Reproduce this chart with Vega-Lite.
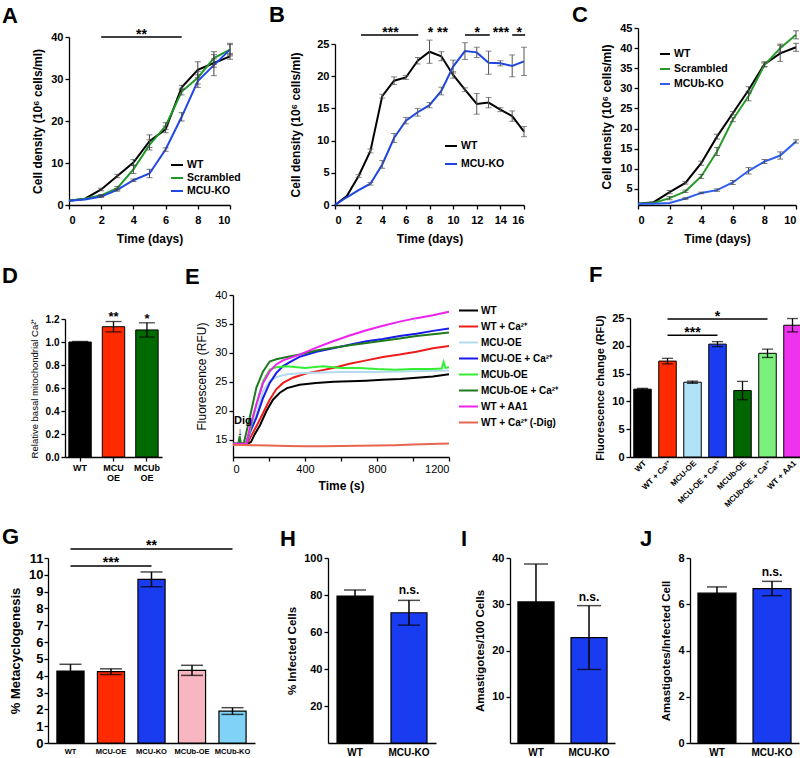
{
"$schema": "https://vega.github.io/schema/vega-lite/v6.json",
"background": "white",
"padding": {"left": 2, "top": 3, "right": 0, "bottom": 0},
"config": {
  "font": "Liberation Sans",
  "view": {"stroke": null},
  "axis": {"grid": false, "domainColor": "#000", "domainWidth": 1.3, "tickColor": "#000", "tickWidth": 1.3, "tickSize": 4, "labelColor": "#000", "titleColor": "#000", "labelFontWeight": "bold", "titleFontWeight": "bold", "labelFontSize": 11, "titleFontSize": 12, "labelPadding": 2, "titlePadding": 6, "labelFont": "Liberation Sans", "titleFont": "Liberation Sans"},
  "title": {"anchor": "start", "frame": "group", "fontSize": 22, "fontWeight": "bold", "color": "#000", "baseline": "alphabetic", "font": "Liberation Sans"},
  "legend": {"labelFont": "Liberation Sans", "labelFontWeight": "bold", "labelColor": "#000", "labelFontSize": 10.5, "symbolType": "stroke", "symbolStrokeWidth": 2, "padding": 0},
  "text": {"font": "Liberation Sans", "color": "#000"},
  "concat": {"spacing": 0}
},
"datasets": {
  "A": [
    {"s":"WT","d":0,"v":1.0,"e":0},{"s":"WT","d":1,"v":1.5,"e":0},{"s":"WT","d":2,"v":3.7,"e":0.3},{"s":"WT","d":3,"v":6.9,"e":0.4},{"s":"WT","d":4,"v":10.1,"e":0.7},{"s":"WT","d":5,"v":15.2,"e":1.5},{"s":"WT","d":6,"v":18.0,"e":0.8},{"s":"WT","d":7,"v":28.0,"e":0.5},{"s":"WT","d":8,"v":32.2,"e":1.9},{"s":"WT","d":9,"v":33.8,"e":1.0},{"s":"WT","d":10,"v":35.4,"e":0.7},
    {"s":"Scrambled","d":0,"v":1.0,"e":0},{"s":"Scrambled","d":1,"v":1.5,"e":0},{"s":"Scrambled","d":2,"v":2.3,"e":0.2},{"s":"Scrambled","d":3,"v":4.0,"e":0.4},{"s":"Scrambled","d":4,"v":8.5,"e":1.0},{"s":"Scrambled","d":5,"v":14.3,"e":1.2},{"s":"Scrambled","d":6,"v":18.8,"e":0.8},{"s":"Scrambled","d":7,"v":27.0,"e":0.8},{"s":"Scrambled","d":8,"v":30.3,"e":1.5},{"s":"Scrambled","d":9,"v":35.0,"e":1.5},{"s":"Scrambled","d":10,"v":37.0,"e":1.5},
    {"s":"MCU-KO","d":0,"v":1.0,"e":0},{"s":"MCU-KO","d":1,"v":1.3,"e":0},{"s":"MCU-KO","d":2,"v":2.0,"e":0.2},{"s":"MCU-KO","d":3,"v":3.6,"e":0.3},{"s":"MCU-KO","d":4,"v":5.9,"e":0.3},{"s":"MCU-KO","d":5,"v":7.5,"e":1.0},{"s":"MCU-KO","d":6,"v":13.2,"e":0.4},{"s":"MCU-KO","d":7,"v":21.0,"e":1.0},{"s":"MCU-KO","d":8,"v":29.5,"e":1.5},{"s":"MCU-KO","d":9,"v":33.3,"e":2.5},{"s":"MCU-KO","d":10,"v":37.0,"e":1.2}
  ],
  "B": [
    {"s":"WT","d":0,"v":0,"e":0},{"s":"WT","d":1,"v":1.4,"e":0},{"s":"WT","d":2,"v":4.5,"e":0.2},{"s":"WT","d":3,"v":8.4,"e":0.3},{"s":"WT","d":4,"v":16.9,"e":0.3},{"s":"WT","d":5,"v":19.3,"e":0.6},{"s":"WT","d":6,"v":19.8,"e":0.3},{"s":"WT","d":7,"v":22.4,"e":0.5},{"s":"WT","d":8,"v":23.8,"e":1.8},{"s":"WT","d":9,"v":23.1,"e":0.7},{"s":"WT","d":10,"v":20.2,"e":0.5},{"s":"WT","d":11,"v":17.9,"e":0.3},{"s":"WT","d":12,"v":15.7,"e":1.6},{"s":"WT","d":13,"v":15.9,"e":0.8},{"s":"WT","d":14,"v":14.8,"e":0.3},{"s":"WT","d":15,"v":13.8,"e":0.8},{"s":"WT","d":16,"v":11.4,"e":0.8},
    {"s":"MCU-KO","d":0,"v":0,"e":0},{"s":"MCU-KO","d":1,"v":1.2,"e":0},{"s":"MCU-KO","d":2,"v":2.3,"e":0},{"s":"MCU-KO","d":3,"v":3.3,"e":0.2},{"s":"MCU-KO","d":4,"v":6.3,"e":0.6},{"s":"MCU-KO","d":5,"v":10.4,"e":0.7},{"s":"MCU-KO","d":6,"v":13.1,"e":0.5},{"s":"MCU-KO","d":7,"v":14.4,"e":0.6},{"s":"MCU-KO","d":8,"v":15.5,"e":0.4},{"s":"MCU-KO","d":9,"v":17.7,"e":0.6},{"s":"MCU-KO","d":10,"v":21.5,"e":1.0},{"s":"MCU-KO","d":11,"v":23.9,"e":1.3},{"s":"MCU-KO","d":12,"v":23.7,"e":0.8},{"s":"MCU-KO","d":13,"v":22.1,"e":1.8},{"s":"MCU-KO","d":14,"v":22.0,"e":0.4},{"s":"MCU-KO","d":15,"v":21.6,"e":1.7},{"s":"MCU-KO","d":16,"v":22.3,"e":2.2}
  ],
  "C": [
    {"s":"WT","d":0,"v":1.3,"e":0},{"s":"WT","d":1,"v":1.7,"e":0},{"s":"WT","d":2,"v":4.2,"e":0.4},{"s":"WT","d":3,"v":6.5,"e":0.3},{"s":"WT","d":4,"v":11.4,"e":0.5},{"s":"WT","d":5,"v":18.0,"e":0.6},{"s":"WT","d":6,"v":23.8,"e":0.4},{"s":"WT","d":7,"v":29.6,"e":0.8},{"s":"WT","d":8,"v":36.0,"e":0.6},{"s":"WT","d":9,"v":38.7,"e":2.0},{"s":"WT","d":10,"v":40.2,"e":1.0},
    {"s":"Scrambled","d":0,"v":1.3,"e":0},{"s":"Scrambled","d":1,"v":1.5,"e":0},{"s":"Scrambled","d":2,"v":2.7,"e":0.4},{"s":"Scrambled","d":3,"v":4.4,"e":0.3},{"s":"Scrambled","d":4,"v":8.1,"e":0.5},{"s":"Scrambled","d":5,"v":14.3,"e":1.0},{"s":"Scrambled","d":6,"v":22.2,"e":0.5},{"s":"Scrambled","d":7,"v":28.1,"e":1.2},{"s":"Scrambled","d":8,"v":35.8,"e":0.5},{"s":"Scrambled","d":9,"v":40.0,"e":1.0},{"s":"Scrambled","d":10,"v":43.3,"e":1.0},
    {"s":"MCUb-KO","d":0,"v":1.3,"e":0},{"s":"MCUb-KO","d":1,"v":1.3,"e":0},{"s":"MCUb-KO","d":2,"v":1.5,"e":0},{"s":"MCUb-KO","d":3,"v":2.6,"e":0.2},{"s":"MCUb-KO","d":4,"v":4.0,"e":0.2},{"s":"MCUb-KO","d":5,"v":4.7,"e":0.3},{"s":"MCUb-KO","d":6,"v":6.6,"e":0.5},{"s":"MCUb-KO","d":7,"v":9.5,"e":0.8},{"s":"MCUb-KO","d":8,"v":11.8,"e":0.5},{"s":"MCUb-KO","d":9,"v":13.3,"e":0.9},{"s":"MCUb-KO","d":10,"v":16.8,"e":0.4}
  ],
  "D": [{"g":"WT","v":1.0,"e":0.005},{"g":"MCU OE","v":1.133,"e":0.045},{"g":"MCUb OE","v":1.105,"e":0.062}],
  "E": [
    {"s":"WT","t":0,"v":14.3},{"s":"WT","t":40,"v":14.3},{"s":"WT","t":80,"v":14.3},{"s":"WT","t":100,"v":14.6},{"s":"WT","t":120,"v":15.9},{"s":"WT","t":150,"v":17.5},{"s":"WT","t":185,"v":19.9},{"s":"WT","t":222,"v":21.9},{"s":"WT","t":260,"v":23.1},{"s":"WT","t":300,"v":23.9},{"s":"WT","t":370,"v":24.5},{"s":"WT","t":460,"v":24.8},{"s":"WT","t":560,"v":25.0},{"s":"WT","t":650,"v":25.1},{"s":"WT","t":740,"v":25.2},{"s":"WT","t":830,"v":25.35},{"s":"WT","t":930,"v":25.5},{"s":"WT","t":1020,"v":25.7},{"s":"WT","t":1110,"v":25.9},{"s":"WT","t":1200,"v":26.3},
    {"s":"WT + Ca²⁺","t":0,"v":14.2},{"s":"WT + Ca²⁺","t":40,"v":14.2},{"s":"WT + Ca²⁺","t":80,"v":14.4},{"s":"WT + Ca²⁺","t":95,"v":15.3},{"s":"WT + Ca²⁺","t":130,"v":17.3},{"s":"WT + Ca²⁺","t":167,"v":19.6},{"s":"WT + Ca²⁺","t":204,"v":21.9},{"s":"WT + Ca²⁺","t":240,"v":23.7},{"s":"WT + Ca²⁺","t":278,"v":24.8},{"s":"WT + Ca²⁺","t":333,"v":25.7},{"s":"WT + Ca²⁺","t":400,"v":26.4},{"s":"WT + Ca²⁺","t":463,"v":26.8},{"s":"WT + Ca²⁺","t":556,"v":27.4},{"s":"WT + Ca²⁺","t":648,"v":28.1},{"s":"WT + Ca²⁺","t":741,"v":28.7},{"s":"WT + Ca²⁺","t":833,"v":29.3},{"s":"WT + Ca²⁺","t":926,"v":29.7},{"s":"WT + Ca²⁺","t":1019,"v":30.2},{"s":"WT + Ca²⁺","t":1111,"v":30.8},{"s":"WT + Ca²⁺","t":1200,"v":31.2},
    {"s":"MCU-OE","t":0,"v":14.3},{"s":"MCU-OE","t":40,"v":14.3},{"s":"MCU-OE","t":75,"v":14.4},{"s":"MCU-OE","t":93,"v":15.9},{"s":"MCU-OE","t":130,"v":19.3},{"s":"MCU-OE","t":167,"v":23.4},{"s":"MCU-OE","t":204,"v":25.1},{"s":"MCU-OE","t":240,"v":25.8},{"s":"MCU-OE","t":300,"v":26.3},{"s":"MCU-OE","t":400,"v":26.5},{"s":"MCU-OE","t":500,"v":26.6},{"s":"MCU-OE","t":600,"v":26.7},{"s":"MCU-OE","t":800,"v":26.7},{"s":"MCU-OE","t":1000,"v":26.8},{"s":"MCU-OE","t":1200,"v":26.95},
    {"s":"MCU-OE + Ca²⁺","t":0,"v":14.3},{"s":"MCU-OE + Ca²⁺","t":40,"v":14.3},{"s":"MCU-OE + Ca²⁺","t":75,"v":14.4},{"s":"MCU-OE + Ca²⁺","t":93,"v":16.2},{"s":"MCU-OE + Ca²⁺","t":130,"v":18.8},{"s":"MCU-OE + Ca²⁺","t":167,"v":22.2},{"s":"MCU-OE + Ca²⁺","t":204,"v":24.8},{"s":"MCU-OE + Ca²⁺","t":240,"v":26.5},{"s":"MCU-OE + Ca²⁺","t":278,"v":27.7},{"s":"MCU-OE + Ca²⁺","t":333,"v":28.7},{"s":"MCU-OE + Ca²⁺","t":370,"v":29.3},{"s":"MCU-OE + Ca²⁺","t":463,"v":30.2},{"s":"MCU-OE + Ca²⁺","t":556,"v":30.8},{"s":"MCU-OE + Ca²⁺","t":648,"v":31.4},{"s":"MCU-OE + Ca²⁺","t":741,"v":32.0},{"s":"MCU-OE + Ca²⁺","t":833,"v":32.4},{"s":"MCU-OE + Ca²⁺","t":926,"v":32.9},{"s":"MCU-OE + Ca²⁺","t":1019,"v":33.3},{"s":"MCU-OE + Ca²⁺","t":1111,"v":33.8},{"s":"MCU-OE + Ca²⁺","t":1200,"v":34.2},
    {"s":"MCUb-OE","t":0,"v":14.3},{"s":"MCUb-OE","t":40,"v":14.3},{"s":"MCUb-OE","t":70,"v":14.4},{"s":"MCUb-OE","t":93,"v":16.4},{"s":"MCUb-OE","t":130,"v":21.1},{"s":"MCUb-OE","t":167,"v":25.1},{"s":"MCUb-OE","t":204,"v":27.1},{"s":"MCUb-OE","t":240,"v":27.5},{"s":"MCUb-OE","t":300,"v":27.7},{"s":"MCUb-OE","t":400,"v":27.4},{"s":"MCUb-OE","t":500,"v":27.7},{"s":"MCUb-OE","t":600,"v":27.4},{"s":"MCUb-OE","t":700,"v":27.4},{"s":"MCUb-OE","t":800,"v":27.2},{"s":"MCUb-OE","t":900,"v":27.1},{"s":"MCUb-OE","t":1000,"v":27.2},{"s":"MCUb-OE","t":1100,"v":27.2},{"s":"MCUb-OE","t":1160,"v":27.3},{"s":"MCUb-OE","t":1170,"v":28.4},{"s":"MCUb-OE","t":1180,"v":27.4},{"s":"MCUb-OE","t":1200,"v":27.5},
    {"s":"MCUb-OE + Ca²⁺","t":0,"v":14.3},{"s":"MCUb-OE + Ca²⁺","t":30,"v":14.3},{"s":"MCUb-OE + Ca²⁺","t":37,"v":15.6},{"s":"MCUb-OE + Ca²⁺","t":44,"v":14.3},{"s":"MCUb-OE + Ca²⁺","t":60,"v":14.4},{"s":"MCUb-OE + Ca²⁺","t":93,"v":18.8},{"s":"MCUb-OE + Ca²⁺","t":130,"v":24.0},{"s":"MCUb-OE + Ca²⁺","t":167,"v":26.8},{"s":"MCUb-OE + Ca²⁺","t":204,"v":28.5},{"s":"MCUb-OE + Ca²⁺","t":240,"v":28.9},{"s":"MCUb-OE + Ca²⁺","t":300,"v":29.3},{"s":"MCUb-OE + Ca²⁺","t":370,"v":29.7},{"s":"MCUb-OE + Ca²⁺","t":463,"v":30.4},{"s":"MCUb-OE + Ca²⁺","t":556,"v":30.9},{"s":"MCUb-OE + Ca²⁺","t":648,"v":31.3},{"s":"MCUb-OE + Ca²⁺","t":741,"v":31.7},{"s":"MCUb-OE + Ca²⁺","t":833,"v":32.1},{"s":"MCUb-OE + Ca²⁺","t":926,"v":32.5},{"s":"MCUb-OE + Ca²⁺","t":1019,"v":32.9},{"s":"MCUb-OE + Ca²⁺","t":1111,"v":33.2},{"s":"MCUb-OE + Ca²⁺","t":1200,"v":33.5},
    {"s":"WT + AA1","t":0,"v":14.3},{"s":"WT + AA1","t":40,"v":14.3},{"s":"WT + AA1","t":74,"v":14.3},{"s":"WT + AA1","t":93,"v":17.0},{"s":"WT + AA1","t":130,"v":21.1},{"s":"WT + AA1","t":167,"v":24.8},{"s":"WT + AA1","t":204,"v":26.8},{"s":"WT + AA1","t":240,"v":28.0},{"s":"WT + AA1","t":278,"v":28.7},{"s":"WT + AA1","t":370,"v":29.7},{"s":"WT + AA1","t":463,"v":30.9},{"s":"WT + AA1","t":556,"v":32.0},{"s":"WT + AA1","t":648,"v":33.0},{"s":"WT + AA1","t":741,"v":33.9},{"s":"WT + AA1","t":833,"v":34.7},{"s":"WT + AA1","t":926,"v":35.4},{"s":"WT + AA1","t":1019,"v":36.0},{"s":"WT + AA1","t":1111,"v":36.5},{"s":"WT + AA1","t":1200,"v":37.1},
    {"s":"WT + Ca²⁺ (-Dig)","t":0,"v":14.1},{"s":"WT + Ca²⁺ (-Dig)","t":100,"v":14.05},{"s":"WT + Ca²⁺ (-Dig)","t":200,"v":14.0},{"s":"WT + Ca²⁺ (-Dig)","t":300,"v":13.9},{"s":"WT + Ca²⁺ (-Dig)","t":400,"v":13.85},{"s":"WT + Ca²⁺ (-Dig)","t":500,"v":13.85},{"s":"WT + Ca²⁺ (-Dig)","t":600,"v":13.9},{"s":"WT + Ca²⁺ (-Dig)","t":700,"v":13.95},{"s":"WT + Ca²⁺ (-Dig)","t":800,"v":14.0},{"s":"WT + Ca²⁺ (-Dig)","t":900,"v":14.05},{"s":"WT + Ca²⁺ (-Dig)","t":1000,"v":14.15},{"s":"WT + Ca²⁺ (-Dig)","t":1100,"v":14.25},{"s":"WT + Ca²⁺ (-Dig)","t":1200,"v":14.35}
  ],
  "F": [{"g":"WT","v":12.2,"e":0.15},{"g":"WT + Ca²⁺","v":17.25,"e":0.5},{"g":"MCU-OE","v":13.45,"e":0.2},{"g":"MCU-OE + Ca²⁺","v":20.3,"e":0.45},{"g":"MCUb-OE","v":11.95,"e":1.65},{"g":"MCUb-OE + Ca²⁺","v":18.65,"e":0.75},{"g":"WT + AA1","v":23.7,"e":1.2}],
  "G": [{"g":"WT","v":4.28,"e":0.4},{"g":"MCU-OE","v":4.24,"e":0.17},{"g":"MCU-KO","v":9.73,"e":0.44},{"g":"MCUb-OE","v":4.32,"e":0.3},{"g":"MCUb-KO","v":1.9,"e":0.2}],
  "H": [{"g":"WT","v":79.4,"e":3.3},{"g":"MCU-KO","v":70.4,"e":6.7}],
  "I": [{"g":"WT","v":30.5,"e":8.2},{"g":"MCU-KO","v":22.8,"e":6.9}],
  "J": [{"g":"WT","v":6.48,"e":0.27},{"g":"MCU-KO","v":6.68,"e":0.31}]
},
"spacing": 20,
"resolve": {"scale": {"color": "independent"}, "legend": {"color": "independent"}},
"vconcat": [
 {"spacing": 28, "resolve": {"scale": {"color": "independent"}, "legend": {"color": "independent"}}, "hconcat": [
  {"width": 182, "height": 177, "title": {"text": "A", "dx": -46, "offset": 0},
   "encoding": {
     "x": {"field": "d", "type": "quantitative", "title": "Time (days)", "scale": {"domain": [0, 10], "range": [21, 182]}, "axis": {"values": [0,2,4,6,8,10], "labelPadding": 5, "titlePadding": 8}},
     "y": {"field": "v", "type": "quantitative", "title": "Cell density (10⁶ cells/ml)", "scale": {"domain": [0, 40], "range": [177, 9]}, "axis": {"values": [0,10,20,30,40], "offset": -21}}},
   "layer": [
    {"data": {"name": "A"}, "mark": {"type": "line", "strokeWidth": 2},
     "encoding": {"color": {"field": "s", "type": "nominal", "scale": {"domain": ["WT","Scrambled","MCU-KO"], "range": ["#000000","#1f9a2a","#2247e8"]}, "legend": {"orient": "none", "legendX": 122, "legendY": 130, "title": null, "symbolSize": 144, "rowPadding": -1, "labelOffset": 3}}}},
    {"data": {"name": "A"}, "transform": [{"filter": "datum.e > 0"}], "mark": {"type": "errorbar", "ticks": true, "size": 6, "color": "#444"},
     "encoding": {"yError": {"field": "e"}}},
    {"data": {"values": [{"d": 2, "d2": 7, "v": 40}]}, "mark": {"type": "rule", "strokeWidth": 1.5, "color": "#000"},
     "encoding": {"x2": {"field": "d2"}}},
    {"data": {"values": [{"d": 4.5, "v": 40, "t": "**"}]}, "mark": {"type": "text", "fontSize": 14, "fontWeight": "bold", "baseline": "alphabetic", "dy": 2},
     "encoding": {"text": {"field": "t"}}}
   ]},
  {"width": 189, "height": 177, "title": {"text": "B", "dx": -66, "offset": -1},
   "encoding": {
     "x": {"field": "d", "type": "quantitative", "title": "Time (days)", "scale": {"domain": [0, 16]}, "axis": {"values": [0,2,4,6,8,10,12,14,16], "labelPadding": 5, "titlePadding": 8}},
     "y": {"field": "v", "type": "quantitative", "title": "Cell density (10⁶ cells/ml)", "scale": {"domain": [0, 25], "range": [177, 16]}, "axis": {"values": [0,5,10,15,20,25], "titlePadding": 14}}},
   "layer": [
    {"data": {"name": "B"}, "mark": {"type": "line", "strokeWidth": 2},
     "encoding": {"color": {"field": "s", "type": "nominal", "scale": {"domain": ["WT","MCU-KO"], "range": ["#000000","#1f45e0"]}, "legend": {"orient": "none", "legendX": 70, "legendY": 72, "padding": 39, "title": null, "symbolSize": 144, "rowPadding": 5, "labelOffset": 3}}}},
    {"data": {"name": "B"}, "transform": [{"filter": "datum.e > 0"}], "mark": {"type": "errorbar", "ticks": true, "size": 6, "color": "#555"},
     "encoding": {"yError": {"field": "e"}}},
    {"data": {"values": [{"d": 2.2, "d2": 7.05, "v": 26.4}, {"d": 11.0, "d2": 13.1, "v": 26.4}, {"d": 15.0, "d2": 16.1, "v": 26.4}]}, "mark": {"type": "rule", "strokeWidth": 1.5, "color": "#000"},
     "encoding": {"x2": {"field": "d2"}}},
    {"data": {"values": [{"d": 4.7, "v": 26.4, "t": "***"}, {"d": 8.7, "v": 26.4, "t": "* **"}, {"d": 12.05, "v": 26.4, "t": "*"}, {"d": 14.05, "v": 26.4, "t": "***"}, {"d": 15.6, "v": 26.4, "t": "*"}]}, "mark": {"type": "text", "fontSize": 14, "fontWeight": "bold", "baseline": "alphabetic", "dy": 2},
     "encoding": {"text": {"field": "t"}}}
   ]},
  {"width": 158, "height": 177, "title": {"text": "C", "dx": -66, "offset": -5},
   "encoding": {
     "x": {"field": "d", "type": "quantitative", "title": "Time (days)", "scale": {"domain": [0, 10]}, "axis": {"values": [0,2,4,6,8,10], "labelPadding": 5, "titlePadding": 8}},
     "y": {"field": "v", "type": "quantitative", "title": "Cell density (10⁶ cells/ml)", "scale": {"domain": [1, 45], "range": [177, 0]}, "axis": {"values": [5,10,15,20,25,30,35,40,45]}}},
   "layer": [
    {"data": {"name": "C"}, "mark": {"type": "line", "strokeWidth": 2},
     "encoding": {"color": {"field": "s", "type": "nominal", "scale": {"domain": ["WT","Scrambled","MCUb-KO"], "range": ["#000000","#2a9a2a","#2f5ef0"]}, "legend": {"orient": "none", "legendX": 21, "legendY": 20, "title": null, "symbolSize": 100, "rowPadding": 3, "labelOffset": 3}}}},
    {"data": {"name": "C"}, "transform": [{"filter": "datum.e > 0"}], "mark": {"type": "errorbar", "ticks": true, "size": 6, "color": "#444"},
     "encoding": {"yError": {"field": "e"}}}
   ]}
 ]},
 {"spacing": 17, "resolve": {"scale": {"color": "independent"}, "legend": {"color": "independent"}}, "vconcat": [
 {"spacing": 23, "resolve": {"scale": {"color": "independent"}, "legend": {"color": "independent"}}, "hconcat": [
  {"width": 114, "height": 162, "title": {"text": "D", "dx": -46, "offset": 7},
   "encoding": {
     "x": {"field": "g", "type": "nominal", "title": null, "scale": {"domain": ["WT","MCU OE","MCUb OE"], "range": [17, 114], "paddingInner": 0.33, "paddingOuter": 0.115}, "axis": {"labelAngle": 0, "labelFontSize": 9, "labelExpr": "split(datum.label, ' ')", "labelLineHeight": 10}},
     "y": {"field": "v", "type": "quantitative", "title": "Relative basal mitochondrial Ca²⁺", "scale": {"domain": [0, 1.2], "range": [162, 24]}, "axis": {"values": [0,0.2,0.4,0.6,0.8,1.0,1.2], "format": ".1f", "labelFontSize": 10, "titleFontSize": 9.5, "titleFontWeight": "normal", "offset": -17}}},
   "layer": [
    {"data": {"name": "D"}, "mark": {"type": "bar", "stroke": "#000", "strokeWidth": 1},
     "encoding": {"color": {"field": "g", "type": "nominal", "scale": {"domain": ["WT","MCU OE","MCUb OE"], "range": ["#000000","#ff2a00","#006a00"]}, "legend": null}}},
    {"data": {"name": "D"}, "mark": {"type": "errorbar", "ticks": true, "size": 16, "color": "#000", "thickness": 1.3},
     "encoding": {"yError": {"field": "e"}}},
    {"data": {"values": [{"g": "MCU OE", "v": 1.2, "t": "**"}, {"g": "MCUb OE", "v": 1.18, "t": "*"}]}, "mark": {"type": "text", "fontSize": 13, "fontWeight": "bold", "baseline": "alphabetic", "dy": 2},
     "encoding": {"text": {"field": "t"}}}
   ]},
  {"width": 216, "height": 162, "title": {"text": "E", "dx": -48, "offset": 0},
   "encoding": {
     "x": {"field": "t", "type": "quantitative", "title": "Time (s)", "scale": {"domain": [0, 1200]}, "axis": {"values": [0,200,400,600,800,1000,1200], "format": "d", "labelFontWeight": "normal"}},
     "y": {"field": "v", "type": "quantitative", "title": "Fluorescence (RFU)", "scale": {"domain": [12, 40]}, "axis": {"values": [15,20,25,30,35,40], "labelFontWeight": "normal", "titleFontWeight": "normal", "titleFontSize": 12}}},
   "layer": [
    {"data": {"name": "E"}, "mark": {"type": "line", "strokeWidth": 2},
     "encoding": {"color": {"field": "s", "type": "nominal", "scale": {"domain": ["WT","WT + Ca²⁺","MCU-OE","MCU-OE + Ca²⁺","MCUb-OE","MCUb-OE + Ca²⁺","WT + AA1","WT + Ca²⁺ (-Dig)"], "range": ["#000000","#ee1c1c","#b4daf0","#1a1aee","#33ee33","#1f7a1f","#ee22ee","#e8664f"]}, "legend": {"orient": "none", "legendX": 218, "legendY": -2, "padding": 7, "title": null, "symbolSize": 361, "rowPadding": 0, "labelOffset": 2, "labelFontSize": 10}}}},
    {"data": {"values": [{"t": 55, "v": 18.3, "l": "Dig"}, {"t": 39, "v": 16.4, "l": "↓"}]}, "mark": {"type": "text", "fontSize": 11, "fontWeight": "bold", "baseline": "middle"},
     "encoding": {"text": {"field": "l"}}}
   ]},
  {"width": 175, "height": 162, "title": {"text": "F", "dx": -41, "offset": 8},
   "encoding": {
     "x": {"field": "g", "type": "nominal", "title": null, "scale": {"domain": ["WT","WT + Ca²⁺","MCU-OE","MCU-OE + Ca²⁺","MCUb-OE","MCUb-OE + Ca²⁺","WT + AA1"], "paddingInner": 0.3, "paddingOuter": 0.15}, "axis": {"labelAngle": -45, "labelFontSize": 8, "ticks": false, "labelPadding": 2}},
     "y": {"field": "v", "type": "quantitative", "title": "Fluorescence change (RFU)", "scale": {"domain": [0, 25], "range": [162, 23]}, "axis": {"values": [0,5,10,15,20,25], "titleFontSize": 11}}},
   "layer": [
    {"data": {"name": "F"}, "mark": {"type": "bar", "stroke": "#000", "strokeWidth": 1},
     "encoding": {"color": {"field": "g", "type": "nominal", "scale": {"domain": ["WT","WT + Ca²⁺","MCU-OE","MCU-OE + Ca²⁺","MCUb-OE","MCUb-OE + Ca²⁺","WT + AA1"], "range": ["#000000","#ff2a00","#b0e2f8","#1a3cf0","#006600","#7cf07c","#ee33ee"]}, "legend": null}}},
    {"data": {"name": "F"}, "mark": {"type": "errorbar", "ticks": true, "size": 11, "color": "#000", "thickness": 1.3},
     "encoding": {"yError": {"field": "e"}}},
    {"data": {"values": [{"g": "WT + Ca²⁺", "g2": "MCU-OE + Ca²⁺", "v": 21.9}, {"g": "WT + Ca²⁺", "g2": "MCUb-OE + Ca²⁺", "v": 24.8}]}, "mark": {"type": "rule", "strokeWidth": 1.5, "color": "#000"},
     "encoding": {"x": {"field": "g", "type": "nominal", "bandPosition": 0.5}, "x2": {"field": "g2", "bandPosition": 0.5}}},
    {"data": {"values": [{"g": "MCU-OE", "v": 21.9, "t": "***"}, {"g": "MCU-OE + Ca²⁺", "v": 24.8, "t": "*"}]}, "mark": {"type": "text", "fontSize": 14, "fontWeight": "bold", "baseline": "alphabetic", "dy": 2},
     "encoding": {"text": {"field": "t"}}}
   ]}
 ]},
 {"spacing": 25, "resolve": {"scale": {"color": "independent"}, "legend": {"color": "independent"}}, "hconcat": [
  {"width": 207, "height": 185, "title": {"text": "G", "dx": -46, "offset": -10},
   "encoding": {
     "x": {"field": "g", "type": "nominal", "title": null, "scale": {"domain": ["WT","MCU-OE","MCU-KO","MCUb-OE","MCUb-KO"], "paddingInner": 0.33, "paddingOuter": 0.22}, "axis": {"labelAngle": 0, "labelFontSize": 7.5, "ticks": false, "labelPadding": 4}},
     "y": {"field": "v", "type": "quantitative", "title": "% Metacyclogenesis", "scale": {"domain": [0, 11]}, "axis": {"values": [0,1,2,3,4,5,6,7,8,9,10,11], "labelFontSize": 13, "titleFontSize": 13, "labelPadding": 1}}},
   "layer": [
    {"data": {"name": "G"}, "mark": {"type": "bar", "stroke": "#000", "strokeWidth": 1.2},
     "encoding": {"color": {"field": "g", "type": "nominal", "scale": {"domain": ["WT","MCU-OE","MCU-KO","MCUb-OE","MCUb-KO"], "range": ["#000000","#ff2a00","#1a3cf0","#f7b6c2","#80d2f7"]}, "legend": null}}},
    {"data": {"name": "G"}, "mark": {"type": "errorbar", "ticks": true, "size": 22, "color": "#000", "thickness": 1.5},
     "encoding": {"yError": {"field": "e"}}},
    {"data": {"values": [{"g": "WT", "g2": "MCU-KO", "v": 10.52}, {"g": "WT", "g2": "MCUb-KO", "v": 11.53}]}, "mark": {"type": "rule", "strokeWidth": 1.5, "color": "#000"},
     "encoding": {"x": {"field": "g", "type": "nominal", "bandPosition": 0.5}, "x2": {"field": "g2", "bandPosition": 0.5}}},
    {"data": {"values": [{"g": "MCU-OE", "v": 10.52, "t": "***"}, {"g": "MCU-KO", "v": 11.53, "t": "**"}]}, "mark": {"type": "text", "fontSize": 14, "fontWeight": "bold", "baseline": "alphabetic", "dy": 1},
     "encoding": {"text": {"field": "t"}}}
   ]},
  {"width": 108, "height": 185, "title": {"text": "H", "dx": -48, "offset": 1},
   "encoding": {
     "x": {"field": "g", "type": "nominal", "title": null, "scale": {"domain": ["WT","MCU-KO"], "paddingInner": 0.333, "paddingOuter": 0.167}, "axis": {"labelAngle": 0, "labelFontSize": 10, "ticks": false, "labelPadding": 4}},
     "y": {"field": "v", "type": "quantitative", "title": "% Infected Cells", "scale": {"domain": [0, 100]}, "axis": {"values": [20,40,60,80,100], "titleFontSize": 11.5}}},
   "layer": [
    {"data": {"name": "H"}, "mark": {"type": "bar", "stroke": "#000", "strokeWidth": 1.2},
     "encoding": {"color": {"field": "g", "type": "nominal", "scale": {"domain": ["WT","MCU-KO"], "range": ["#000000","#1a3cf0"]}, "legend": null}}},
    {"data": {"name": "H"}, "mark": {"type": "errorbar", "ticks": true, "size": 22, "color": "#000", "thickness": 1.5},
     "encoding": {"yError": {"field": "e"}}},
    {"data": {"values": [{"g": "MCU-KO", "v": 80.4, "t": "n.s."}]}, "mark": {"type": "text", "fontSize": 12, "fontWeight": "bold", "baseline": "alphabetic"},
     "encoding": {"text": {"field": "t"}}}
   ]},
  {"width": 105, "height": 185, "title": {"text": "I", "dx": -49, "offset": 1},
   "encoding": {
     "x": {"field": "g", "type": "nominal", "title": null, "scale": {"domain": ["WT","MCU-KO"], "paddingInner": 0.32, "paddingOuter": 0.15}, "axis": {"labelAngle": 0, "labelFontSize": 10, "ticks": false, "labelPadding": 4}},
     "y": {"field": "v", "type": "quantitative", "title": "Amastigotes/100 Cells", "scale": {"domain": [0, 40]}, "axis": {"values": [10,20,30,40], "titleFontSize": 11.5}}},
   "layer": [
    {"data": {"name": "I"}, "mark": {"type": "bar", "stroke": "#000", "strokeWidth": 1.2},
     "encoding": {"color": {"field": "g", "type": "nominal", "scale": {"domain": ["WT","MCU-KO"], "range": ["#000000","#1a3cf0"]}, "legend": null}}},
    {"data": {"name": "I"}, "mark": {"type": "errorbar", "ticks": true, "size": 24, "color": "#000", "thickness": 1.5},
     "encoding": {"yError": {"field": "e"}}},
    {"data": {"values": [{"g": "MCU-KO", "v": 30.7, "t": "n.s."}]}, "mark": {"type": "text", "fontSize": 12, "fontWeight": "bold", "baseline": "alphabetic"},
     "encoding": {"text": {"field": "t"}}}
   ]},
  {"width": 109, "height": 185, "title": {"text": "J", "dx": -50, "offset": 1},
   "encoding": {
     "x": {"field": "g", "type": "nominal", "title": null, "scale": {"domain": ["WT","MCU-KO"], "paddingInner": 0.31, "paddingOuter": 0.145}, "axis": {"labelAngle": 0, "labelFontSize": 10, "ticks": false, "labelPadding": 4}},
     "y": {"field": "v", "type": "quantitative", "title": "Amastigotes/Infected Cell", "scale": {"domain": [0, 8]}, "axis": {"values": [0,2,4,6,8], "titleFontSize": 11.5}}},
   "layer": [
    {"data": {"name": "J"}, "mark": {"type": "bar", "stroke": "#000", "strokeWidth": 1.2},
     "encoding": {"color": {"field": "g", "type": "nominal", "scale": {"domain": ["WT","MCU-KO"], "range": ["#000000","#1a3cf0"]}, "legend": null}}},
    {"data": {"name": "J"}, "mark": {"type": "errorbar", "ticks": true, "size": 20, "color": "#000", "thickness": 1.5},
     "encoding": {"yError": {"field": "e"}}},
    {"data": {"values": [{"g": "MCU-KO", "v": 7.23, "t": "n.s."}]}, "mark": {"type": "text", "fontSize": 12, "fontWeight": "bold", "baseline": "alphabetic"},
     "encoding": {"text": {"field": "t"}}}
   ]}
 ]}
 ]}
]
}
